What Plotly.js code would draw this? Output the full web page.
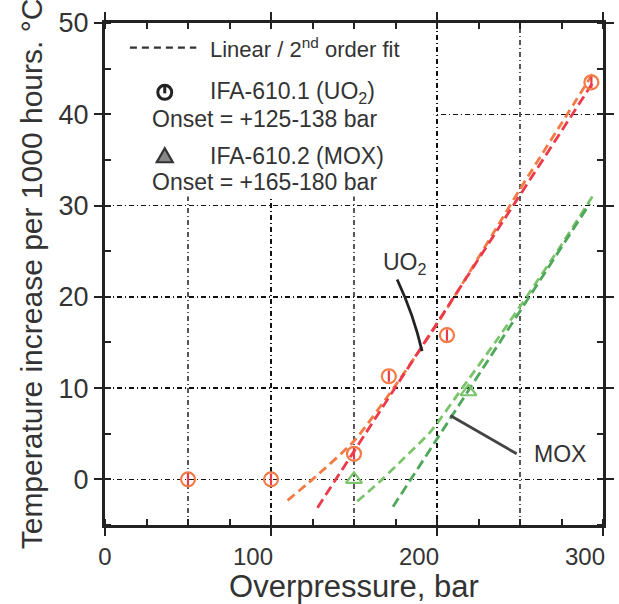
<!DOCTYPE html>
<html>
<head>
<meta charset="utf-8">
<script src="https://cdn.plot.ly/plotly-3.0.1.min.js"></script>
<style>html,body{margin:0;padding:0;background:#fff;}#chart{width:619px;height:604px;}</style>
</head>
<body>
<div id="chart"></div>
<script>
// Measured data points
const uo2X = [50, 100, 150, 171, 206, 293];
const uo2Y = [0, 0, 2.8, 11.3, 15.8, 43.5];
const moxX = [150, 219];
const moxY = [0, 9.6];

// Fit curves
const uo2QuadX = [110, 125, 150, 175, 200, 225, 250, 275, 294];
const uo2QuadY = [-2.3, 0, 4.2, 10.3, 17, 24.3, 31.8, 39, 44.5];
const uo2LinX = [128, 294];
const uo2LinY = [-3.1, 43.5];
const moxQuadX = [152, 167, 180, 196, 216, 235, 254, 275, 295];
const moxQuadY = [-2.4, 0, 2.3, 5.2, 10.2, 15, 20, 25.7, 31.4];
const moxLinX = [173.5, 292];
const moxLinY = [-3, 30.2];

// Axis ticks
const xTicks = [0, 100, 200, 300];
const xTickText = ['\u2003\u20020', '100', '200', '300'];
const xGridExtra = [50, 150, 250];
const yTicks = [0, 10, 20, 30, 40, 50];

const FONT = 'Liberation Sans, Arial, sans-serif';
const orange = '#f47a45';
const red = '#ec3a4a';
const green1 = '#7cc46c';
const green2 = '#4fa85a';
const GRIDDASH = '5px,3px,1px,3px';

const traces = [
  {x: uo2QuadX, y: uo2QuadY, mode: 'lines', line: {color: orange, width: 2.8, dash: '9px,5px', shape: 'spline', smoothing: 0.6}, hoverinfo: 'skip'},
  {x: uo2LinX, y: uo2LinY, mode: 'lines', line: {color: red, width: 2.8, dash: '10px,5px'}, hoverinfo: 'skip'},
  {x: moxQuadX, y: moxQuadY, mode: 'lines', line: {color: green1, width: 2.8, dash: '9px,5px', shape: 'spline', smoothing: 0.6}, hoverinfo: 'skip'},
  {x: moxLinX, y: moxLinY, mode: 'lines', line: {color: green2, width: 2.8, dash: '10px,5px'}, hoverinfo: 'skip'},
  {x: uo2X, y: uo2Y, mode: 'markers', marker: {symbol: 'circle-open', size: 14, color: orange, line: {width: 2.2, color: orange}}},
  {x: uo2X, y: uo2Y, mode: 'markers', marker: {symbol: 'line-ns-open', size: 8, color: red, line: {width: 2.2, color: red}}},
  {x: moxX, y: moxY, mode: 'markers', marker: {symbol: 'triangle-up-open', size: 14, color: green1, line: {width: 2.2, color: green1}}}
];

const axisCommon = {
  showline: true, linewidth: 3, linecolor: '#222', mirror: 'ticks',
  ticks: 'outside', ticklen: 8, tickwidth: 2, tickcolor: '#222',
  showgrid: true, gridcolor: '#111', gridwidth: 1.4, griddash: GRIDDASH,
  zeroline: false
};

const gridShapes = xGridExtra.map(v => ({
  type: 'line', xref: 'x', yref: 'paper', x0: v, x1: v, y0: 0, y1: 1,
  line: {color: '#111', width: 1.4, dash: GRIDDASH}, layer: 'below'
}));

const layout = {
  width: 619, height: 604,
  margin: {l: 105, r: 16, t: 23, b: 79},
  paper_bgcolor: '#fff', plot_bgcolor: '#fff',
  showlegend: false,
  xaxis: Object.assign({}, axisCommon, {
    range: [0, 300], tickvals: xTicks, ticktext: xTickText,
    ticklabelshift: -18, ticklabeloverflow: 'allow',
    tickfont: {family: FONT, size: 24, color: '#333'},
    minor: {dtick: 25, tick0: 0, ticks: 'inside', ticklen: 6, tickwidth: 2, tickcolor: '#222', showgrid: false},
    title: {text: 'Overpressure, bar', font: {family: FONT, size: 31, color: '#333'}, standoff: 9}
  }),
  yaxis: Object.assign({}, axisCommon, {
    range: [-5, 50], tickvals: yTicks, ticktext: yTicks.map(String),
    tickfont: {family: FONT, size: 27, color: '#333'},
    minor: {dtick: 5, tick0: 0, ticks: 'inside', ticklen: 6, tickwidth: 2, tickcolor: '#222', showgrid: false},
    title: {text: 'Temperature increase per 1000 hours. \u00B0C', font: {family: FONT, size: 30, color: '#333'}, standoff: 8}
  }),
  shapes: gridShapes.concat([
    // legend background box
    {type: 'rect', xref: 'x', yref: 'y', x0: 0, x1: 198, y0: 31, y1: 50, fillcolor: '#fff', line: {width: 0}, layer: 'between'},
    // legend dashed sample
    {type: 'line', xref: 'x', yref: 'y', x0: 15, x1: 55, y0: 47.3, y1: 47.3, line: {color: '#333', width: 2.2, dash: '7px,5px'}},
    // legend circle symbol
    {type: 'circle', xref: 'x', yref: 'y', xsizemode: 'pixel', ysizemode: 'pixel', xanchor: 36, yanchor: 42.4, x0: -7, x1: 7, y0: -7, y1: 7, line: {color: '#222', width: 3}},
    {type: 'line', xref: 'x', yref: 'y', xsizemode: 'pixel', ysizemode: 'pixel', xanchor: 36, yanchor: 42.4, x0: 0, x1: 0, y0: -1, y1: 7, line: {color: '#222', width: 3}},
    // legend triangle symbol
    {type: 'path', xref: 'x', yref: 'y', xsizemode: 'pixel', ysizemode: 'pixel', xanchor: 36, yanchor: 35.4, path: 'M -8,-6 L 8,-6 L 0,8 Z', fillcolor: '#888', line: {color: '#333', width: 2.2}},
    // pointer lines
    {type: 'path', xref: 'x', yref: 'y', path: 'M 176,21.9 Q 186,18 191,14.05', line: {color: '#222', width: 2.8}},
    {type: 'line', xref: 'x', yref: 'y', x0: 208, y0: 7.0, x1: 248, y1: 2.8, line: {color: '#444', width: 2.8}}
  ]),
  annotations: [
    {xref: 'x', yref: 'y', x: 62, y: 47.3, xanchor: 'left', yanchor: 'middle', showarrow: false, text: 'Linear / 2<sup>nd</sup> order fit', font: {family: FONT, size: 22, color: '#333'}},
    {xref: 'x', yref: 'y', x: 62, y: 42.4, xanchor: 'left', yanchor: 'middle', showarrow: false, text: 'IFA-610.1 (UO<sub>2</sub>)', font: {family: FONT, size: 23, color: '#333'}},
    {xref: 'x', yref: 'y', x: 27, y: 39.5, xanchor: 'left', yanchor: 'middle', showarrow: false, text: 'Onset = +125-138 bar', font: {family: FONT, size: 23, color: '#333'}},
    {xref: 'x', yref: 'y', x: 62, y: 35.4, xanchor: 'left', yanchor: 'middle', showarrow: false, text: 'IFA-610.2 (MOX)', font: {family: FONT, size: 23, color: '#333'}},
    {xref: 'x', yref: 'y', x: 27, y: 32.6, xanchor: 'left', yanchor: 'middle', showarrow: false, text: 'Onset = +165-180 bar', font: {family: FONT, size: 23, color: '#333'}},
    {xref: 'x', yref: 'y', x: 181, y: 23.7, xanchor: 'center', yanchor: 'middle', showarrow: false, text: 'UO<sub>2</sub>', font: {family: FONT, size: 23, color: '#333'}},
    {xref: 'x', yref: 'y', x: 274, y: 2.8, xanchor: 'center', yanchor: 'middle', showarrow: false, text: 'MOX', font: {family: FONT, size: 23, color: '#333'}}
  ]
};

Plotly.newPlot('chart', traces, layout, {staticPlot: true, displayModeBar: false});
</script>
</body>
</html>
